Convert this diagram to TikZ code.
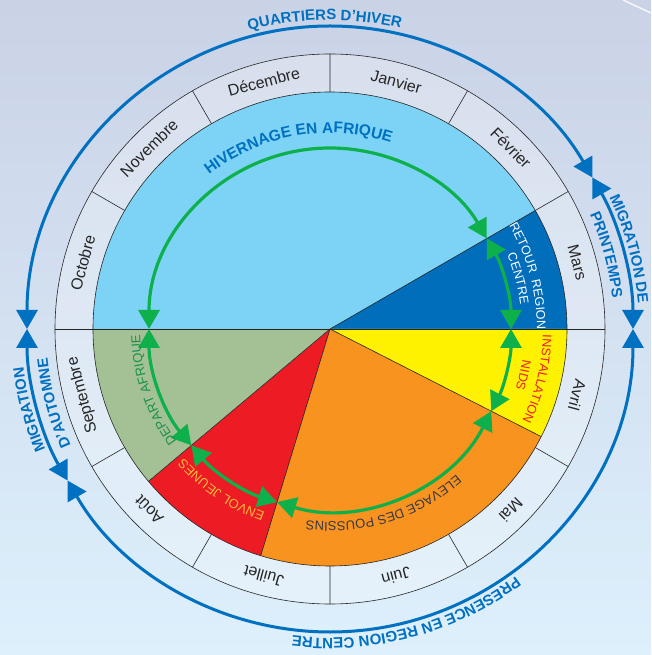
\documentclass[tikz,border=0pt]{standalone}
\usepackage{fontspec}
\setmainfont{Liberation Sans}
\usetikzlibrary{arrows.meta,decorations.text}

\definecolor{bgtop}{RGB}{202,210,230}
\definecolor{bgbot}{RGB}{221,240,252}
\definecolor{cycleblue}{RGB}{0,112,192}
\definecolor{cyclegreen}{RGB}{13,176,75}
\definecolor{hiver}{RGB}{124,211,246}
\definecolor{retour}{RGB}{0,110,186}
\definecolor{nids}{RGB}{255,242,0}
\definecolor{poussins}{RGB}{247,147,30}
\definecolor{envol}{RGB}{237,28,36}
\definecolor{depart}{RGB}{164,193,150}
\definecolor{envoltext}{RGB}{250,185,60}
\definecolor{departtext}{RGB}{25,145,75}
\definecolor{poussintext}{RGB}{55,55,70}

\begin{document}
\begin{tikzpicture}[x=1pt, y=1pt,
		edge/.style={draw=black!85, line width=.6pt},
		bowtie/.style={{Triangle[width=21pt,length=19pt]}-{Triangle[width=21pt,length=19pt]}},
		bluearc/.style={bowtie, line width=3pt, cycleblue},
		greenarc/.style={bowtie, line width=3.2pt, cyclegreen},
		month/.style={font=\fontsize{16}{16}\selectfont, text=black!85},
		curved/.style={decorate, decoration={text along path, text align=center, #1}}]
			\useasboundingbox (-330,-326) rectangle (321,329);
			\fill[top color=bgtop, bottom color=bgbot] (-330,-326) rectangle (321,329);
			\draw[white, line width=1.5pt, opacity=.8] (293,329) -- (321,316);
			
			\fill[white, opacity=.25] (0,0) circle (275);
			
			\fill[hiver] (0,0) -- (180:237) arc (180:30:237) -- cycle;
			\fill[retour] (0,0) -- (30:237) arc (30:0:237) -- cycle;
			\fill[nids] (0,0) -- (0:237) arc (0:-27:237) -- cycle;
			\fill[poussins] (0,0) -- (-27:237) arc (-27:-107:237) -- cycle;
			\fill[envol] (0,0) -- (-107:237) arc (-107:-140:237) -- cycle;
			\fill[depart] (0,0) -- (-140:237) arc (-140:-180:237) -- cycle;
			
			\draw[edge] (0,0) circle (237) (0,0) circle (275);
			\draw[edge] (180:275) -- (0:275);
			\draw[edge] (0,0) -- (30:275);
			\draw[edge] (0,0) -- (-27:237) (0,0) -- (-107:237) (0,0) -- (-140:237);
			\draw[edge] (60:237) -- (60:275) (90:237) -- (90:275) (120:237) -- (120:275) (150:237) -- (150:275);
			\draw[edge] (-30:237) -- (-30:275) (-60:237) -- (-60:275) (-90:237) -- (-90:275);
			\draw[edge] (-120:237) -- (-120:275) (-150:237) -- (-150:275);
			
			\node[month, rotate=-15] (jan) at (75:256) {Janvier};
			\node[month, rotate=-45] (feb) at (45:256) {Février};
			\node[month, rotate=-75] (mar) at (15:256) {Mars};
			\node[month, rotate=-105] (apr) at (-15:256) {Avril};
			\node[month, rotate=-135] (may) at (-45:256) {Mai};
			\node[month, rotate=-165] (jun) at (-75:256) {Juin};
			\node[month, rotate=165] (jul) at (-105:256) {Juillet};
			\node[month, rotate=135] (aug) at (-135:256) {Août};
			\node[month, rotate=105] (sep) at (-165:256) {Septembre};
			\node[month, rotate=75] (oct) at (165:256) {Octobre};
			\node[month, rotate=45] (nov) at (135:256) {Novembre};
			\node[month, rotate=15] (dec) at (105:256) {Décembre};
			
			\draw[greenarc] (180:181) arc (180:30:181);
			\draw[greenarc] (30:181) arc (30:0:181);
			\draw[greenarc] (0:181) arc (0:-27:181);
			\draw[greenarc] (-27:181) arc (-27:-107:181);
			\draw[greenarc] (-107:181) arc (-107:-140:181);
			\draw[greenarc] (-140:181) arc (-140:-180:181);
			
			\draw[bluearc] (180:303) arc (180:30:303);
			\draw[bluearc] (30:303) arc (30:0:303);
			\draw[bluearc] (0:303) arc (0:-150:303);
			\draw[bluearc] (-150:303) arc (-150:-180:303);
			
			\path[curved={text color=cycleblue, text={|\bfseries\fontsize{15.5}{16}\selectfont|HIVERNAGE EN AFRIQUE}}] (140:196) arc (140:60:196);
			\path[curved={text color=white, text={|\fontsize{12.5}{13}\selectfont|RETOUR {\ }REGION}}] (33:207) arc (33:-3:207);
			\path[curved={text color=white, text={|\fontsize{12.5}{13}\selectfont|CENTRE}}] (33:192) arc (33:-3:192);
			\path[curved={text color=envol, text={|\fontsize{12.5}{13}\selectfont|INSTALLATION}}] (5:213) arc (5:-32:213);
			\path[curved={text color=envol, text={|\fontsize{12.5}{13}\selectfont|NIDS}}] (5:195) arc (5:-32:195);
			\path[curved={text color=poussintext, text={|\fontsize{13}{14}\selectfont|ELEVAGE DES POUSSINS}}] (-33:193) arc (-33:-113:193);
			\path[curved={text color=envoltext, text={|\fontsize{13}{14}\selectfont|ENVOL JEUNES}}] (-104:195) arc (-104:-144:195);
			\path[curved={text color=departtext, text={|\fontsize{13}{14}\selectfont|DEPART AFRIQUE}}] (229:190) arc (229:169:190);
			
			\path[curved={text color=cycleblue, text={|\bfseries\fontsize{15}{16}\selectfont|QUARTIERS D'HIVER}}] (121:309) arc (121:61:309);
			\path[curved={text color=cycleblue, text={|\bfseries\fontsize{15}{16}\selectfont|MIGRATION DE}}] (35:309) arc (35:-5:309);
			\path[curved={text color=cycleblue, text={|\bfseries\fontsize{15}{16}\selectfont|PRINTEMPS}}] (35:284) arc (35:-5:284);
			\path[curved={text color=cycleblue, text={|\bfseries\fontsize{15}{16}\selectfont|PRESENCE EN REGION CENTRE}}] (-30:309) arc (-30:-120:309);
			\path[curved={text color=cycleblue, text={|\bfseries\fontsize{15}{16}\selectfont|MIGRATION}}] (215:309) arc (215:175:309);
			\path[curved={text color=cycleblue, text={|\bfseries\fontsize{15}{16}\selectfont|D'AUTOMNE}}] (215:284) arc (215:175:284);
		\end{tikzpicture}
\end{document}
